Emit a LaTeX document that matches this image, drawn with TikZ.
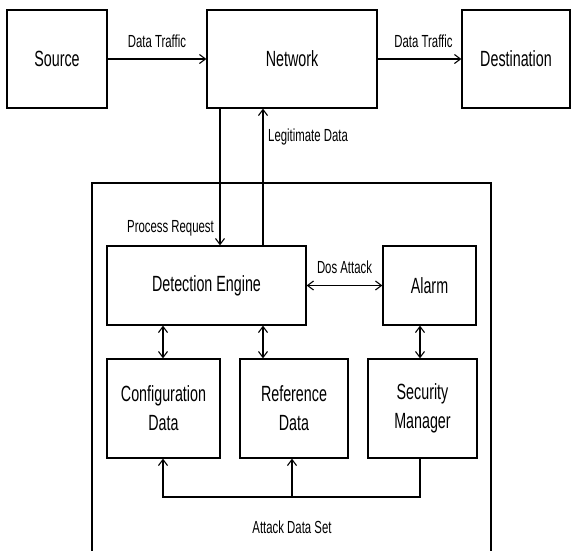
\documentclass[tikz,border=0pt]{standalone}
\usepackage{fontspec}
\setmainfont{Liberation Sans}[FakeStretch=0.65]
\usetikzlibrary{arrows.meta}
\begin{document}
\begin{tikzpicture}[x=1pt,y=-1pt,
  box/.style={draw, line width=1.3pt, inner sep=0pt, align=center,
    font=\fontsize{22}{29}\selectfont},
  lbl/.style={inner sep=0pt, font=\fontsize{17.5}{21}\selectfont},
  conn/.style={line width=1.1pt},
  arr/.style={conn, -{Straight Barb[length=6pt,width=9pt,line width=1.1pt]}},
  darr/.style={conn, {Straight Barb[length=6pt,width=9pt,line width=1.1pt]}-{Straight Barb[length=6pt,width=9pt,line width=1.1pt]}}]
\useasboundingbox (0,0) rectangle (571,550);
% top row
\node[box, minimum width=100pt, minimum height=98pt] (src) at (57,59) {Source};
\node[box, minimum width=170pt, minimum height=98pt] (net) at (292,59) {Network};
\node[box, minimum width=108pt, minimum height=98pt] (dst) at (516,59) {Destination};
% container
\draw[line width=1.3pt] (92,556) -- (92,183) -- (491,183) -- (491,556);
% inner boxes
\node[box, minimum width=199pt, minimum height=79pt] (det) at (206.5,285.5) {Detection Engine};
\node[box, minimum width=93pt, minimum height=79pt] (alm) at (429.5,285.5) {Alarm};
\node[box, minimum width=113pt, minimum height=99pt] (cfg) at (163.5,408.5) {Configuration\\Data};
\node[box, minimum width=108pt, minimum height=99pt] (ref) at (294,408.5) {Reference\\Data};
\node[box, minimum width=109pt, minimum height=99pt] (sec) at (422.5,408.5) {Security\\Manager};
% x positions
\coordinate (xa) at (220,0);
\coordinate (xb) at (263,0);
\coordinate (xc) at (163,0);
\coordinate (xd) at (292,0);
\coordinate (xe) at (420,0);
\coordinate (bus) at (0,497);
% connectors
\draw[arr] (src) -- node[lbl, above=11pt] {Data Traffic} (net);
\draw[arr] (net) -- node[lbl, above=11pt, xshift=4pt] {Data Traffic} (dst);
\draw[arr] (net.south -| xa) -- (det.north -| xa);
\draw[arr] (det.north -| xb) -- (net.south -| xb);
\node[lbl, anchor=east] at (214,228) {Process Request};
\node[lbl, anchor=west] at (268,137) {Legitimate Data};
\draw[darr] (det) -- node[lbl, above=11pt] {Dos Attack} (alm);
\draw[darr] (det.south -| xc) -- (cfg.north -| xc);
\draw[darr] (det.south -| xb) -- (ref.north -| xb);
\draw[darr] (alm.south -| xe) -- (sec.north -| xe);
\draw[arr] (sec.south -| xe) -- (bus -| xe) -- (bus -| xc) -- (cfg.south -| xc);
\draw[arr] (bus -| xd) -- (ref.south -| xd);
\node[lbl] (ads) at (292,527) {Attack Data Set};
\end{tikzpicture}
\end{document}
